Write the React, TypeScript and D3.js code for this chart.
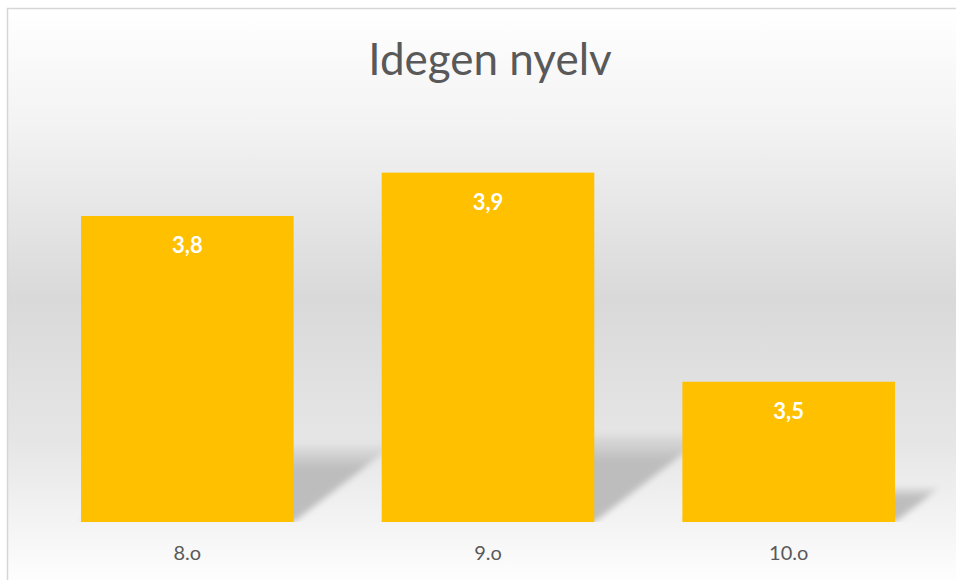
import React from "react";
import * as d3 from "d3";

const categories = ["8.o", "9.o", "10.o"];
const values = [3.8, 3.885, 3.475];
const title = "Idegen nyelv";

const W = 956;
const H = 580;
const FONT = "Lato, 'Open Sans', sans-serif";

export default function App() {
  const x = d3
    .scaleBand<string>()
    .domain(categories)
    .range([37, 939])
    .paddingInner(0.293)
    .paddingOuter(0.1465);
  const y = d3.scaleLinear().domain([3.2, 4.0]).range([522, 114]);
  const fmt = (v: number) => d3.format(".1f")(v).replace(".", ",");
  const base = y(3.2);

  // perspective shadow behind each bar
  const shadow = (c: string, v: number) => {
    const x0 = x(c)!;
    const x1 = x0 + x.bandwidth();
    const h = (base - y(v)) * 0.25;
    const off = h * 1.3;
    return `M${x0},${base}L${x1},${base}L${x1 + off},${base - h}L${x0 + off},${base - h}Z`;
  };

  return (
    <svg
      width={W}
      height={H}
      style={{ position: "absolute", left: 0, top: 0 }}
      fontFamily={FONT}
    >
      <defs>
        <linearGradient id="bg" x1="0" y1="0" x2="0" y2="1">
          <stop offset="0" stopColor="#ffffff" />
          <stop offset="0.2" stopColor="#f3f3f3" />
          <stop offset="0.5" stopColor="#d9d9d9" />
          <stop offset="0.75" stopColor="#e6e6e6" />
          <stop offset="0.88" stopColor="#f3f3f3" />
          <stop offset="1" stopColor="#ffffff" />
        </linearGradient>
        <linearGradient id="sh" x1="0" y1="0" x2="0" y2="1">
          <stop offset="0" stopColor="#bdbdbd" stopOpacity="0.2" />
          <stop offset="0.3" stopColor="#bdbdbd" stopOpacity="1" />
          <stop offset="1" stopColor="#bdbdbd" stopOpacity="1" />
        </linearGradient>
        <filter id="blur" x="-20%" y="-50%" width="140%" height="200%">
          <feGaussianBlur stdDeviation="3" />
        </filter>
        <clipPath id="above">
          <rect x={0} y={0} width={W} height={base} />
        </clipPath>
      </defs>

      <rect x={7.5} y={8.5} width={W} height={H} fill="url(#bg)" stroke="#d6d6d6" strokeWidth={1.5} />

      <text x={490} y={75} textAnchor="middle" fontSize={44} fill="#595959">
        {title}
      </text>

      <g clipPath="url(#above)">
        {categories.map((c, i) => (
          <path key={c} d={shadow(c, values[i])} fill="url(#sh)" filter="url(#blur)" />
        ))}
      </g>

      {categories.map((c, i) => (
        <g key={c}>
          <rect
            x={x(c)}
            y={y(values[i])}
            width={x.bandwidth()}
            height={base - y(values[i])}
            fill="#ffc000"
          />
          <text
            x={x(c)! + x.bandwidth() / 2}
            y={y(values[i]) + 37}
            textAnchor="middle"
            fontSize={22}
            fontWeight="bold"
            fill="#ffffff"
          >
            {fmt(values[i])}
          </text>
          <text
            x={x(c)! + x.bandwidth() / 2}
            y={560}
            textAnchor="middle"
            fontSize={20}
            fill="#595959"
          >
            {c}
          </text>
        </g>
      ))}
    </svg>
  );
}
